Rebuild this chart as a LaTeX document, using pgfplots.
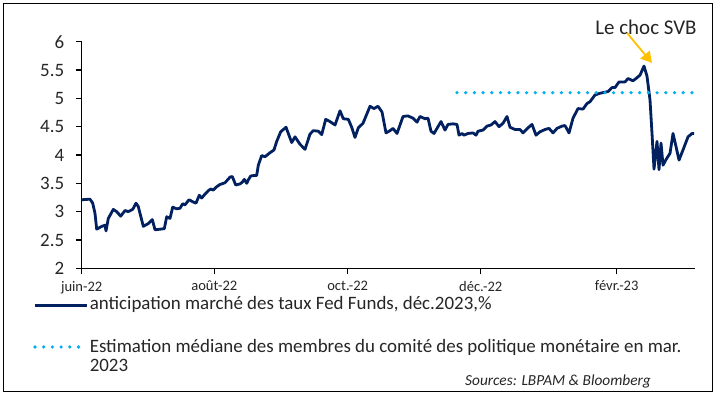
\documentclass[border=0pt]{standalone}
\usepackage{fontspec}
\setmainfont{Carlito}
\usepackage{pgfplots}
\pgfplotsset{compat=1.18}
\usetikzlibrary{arrows.meta}
\definecolor{navy}{HTML}{002060}
\definecolor{sky}{HTML}{00B0F0}
\definecolor{gold}{HTML}{FFC000}
\begin{document}
\begin{tikzpicture}[x=1bp,y=1bp]
\useasboundingbox (0,0) rectangle (717,395);
\fill[white] (0,0) rectangle (717,395);
\draw[line width=1.2bp] (3.5,3.5) rectangle (712.5,391.5);
\begin{axis}[
  at={(81.7bp,126.7bp)}, anchor=south west,
  scale only axis, width=613.3bp, height=226.6bp,
  xmin=81.7, xmax=695, ymin=2, ymax=6,
  axis x line*=bottom, axis y line*=left,
  axis line style={line width=1.2bp, -},
  xtick={81.7,214.3,347.7,480.7,616.7},
  xticklabels={juin-22,août-22,oct.-22,déc.-22,févr.-23},
  ytick={2,2.5,3,3.5,4,4.5,5,5.5,6},
  tick align=outside, major tick length=6bp,
  tick style={line width=1.2bp, black},
  /pgf/number format/assume math mode=true,
  yticklabel style={font=\fontsize{19}{22}\selectfont, color=black!85, xshift=-8bp},
  xticklabel style={font=\fontsize{14.6}{17}\selectfont, color=black!85, inner sep=0.5bp, yshift=-6bp},
  legend style={at={(-0.0794,-0.1175)}, anchor=north west, draw=none, fill=none,
    inner sep=0pt, row sep=25bp, font=\fontsize{19}{21}\selectfont,
    cells={anchor=north west}, nodes={inner sep=1bp, text=black!85}},
  legend image code/.code={\path[draw=none,fill=none] (0,0) rectangle (52bp,-1bp); \draw[#1] (0,-10bp) -- (52bp,-10bp);},
]
\addplot[navy, line width=2.8bp, line join=round] coordinates {
(81.7,3.21)(90,3.22)(92.7,3.15)(95,2.97)(96.7,2.69)(101.7,2.74)(105,2.76)(106,2.66)
(108.3,2.88)(113.3,3.04)(116.7,3.00)(120.7,2.92)(125,3.02)(128.3,3.00)(132.7,3.04)
(136,3.15)(138.3,3.09)(143.3,2.74)(148.3,2.79)(152.3,2.86)(155,2.68)(160,2.69)
(164.3,2.70)(166.7,2.91)(170,2.88)(172.7,3.08)(176.7,3.05)(180,3.06)(182.7,3.14)
(185,3.12)(189,3.21)(193.3,3.17)(196,3.15)(199.3,3.29)(201.7,3.24)(205,3.31)
(208.3,3.37)(210.7,3.40)(213.3,3.38)(216.7,3.44)(220,3.48)(225,3.51)(230,3.61)
(232.3,3.62)(235.7,3.47)(240,3.49)(242.3,3.52)(244.3,3.57)(246.7,3.50)(248.3,3.56)
(250.7,3.63)(255,3.64)(256.7,3.64)(258.3,3.82)(261.7,3.99)(265,3.97)(270,4.04)
(274,4.09)(276.7,4.24)(280.7,4.41)(286,4.49)(291.7,4.22)(295,4.32)(300,4.19)
(305,4.10)(310,4.37)(313.3,4.43)(318.3,4.42)(321.7,4.36)(325.7,4.63)(330,4.59)
(335,4.53)(340,4.78)(343.3,4.64)(348.3,4.63)(351.7,4.49)(355,4.31)(358.3,4.48)
(363,4.56)(370,4.86)(374,4.82)(378,4.86)(382,4.76)(386,4.39)(390,4.43)(393,4.47)
(397,4.38)(403,4.68)(408,4.69)(413,4.65)(417,4.58)(420,4.68)(425,4.64)(428,4.65)
(431,4.42)(434,4.38)(438,4.50)(441,4.59)(445,4.44)(448,4.54)(453,4.55)(457,4.54)
(459,4.35)(462,4.38)(464,4.35)(468,4.38)(473,4.39)(476,4.35)(478,4.42)(483,4.44)
(487,4.51)(491,4.53)(495,4.59)(499,4.50)(503,4.56)(507,4.68)(510,4.49)(515,4.45)
(520,4.45)(523,4.39)(528,4.48)(532,4.54)(536,4.35)(540,4.41)(545,4.45)(549,4.47)
(553,4.39)(557,4.47)(562,4.51)(565,4.52)(569,4.39)(573,4.65)(578,4.82)(583,4.81)
(587,4.91)(590,4.94)(595,5.06)(600,5.09)(608,5.12)(612,5.19)(615,5.19)(619,5.29)
(625,5.29)(628,5.35)(633,5.31)(636,5.35)(640,5.41)(644,5.57)(647,5.39)(650,4.97)
(652,4.38)(654,3.75)(657,4.24)(659,3.74)(661,4.21)(663,3.82)(666,3.92)(670,4.03)
(673,4.38)(676,4.15)(679,3.91)(683,4.09)(688,4.32)(692,4.38)(694,4.38)
};
\addlegendentry{anticipation marché des taux Fed Funds, déc.2023,\%}
\addplot[sky, line width=3.6bp, line cap=round, dash pattern=on 0bp off 8.7bp] coordinates {
(457,5.1)(692,5.1)
};
\addlegendentry{\begin{tabular}[t]{@{}l@{}}Estimation médiane des membres du comité des politique monétaire en mar.\\[-2bp]2023\end{tabular}}
\end{axis}
\node[font=\fontsize{21}{24}\selectfont, text=black!85] at (646,368) {Le choc SVB};
\draw[gold, line width=1.8bp, -{Triangle[width=12bp,length=11bp]}] (627,362) -- (652,332);
\node[font=\itshape\fontsize{15.4}{18}\selectfont, text=black!85] at (558,14) {Sources: LBPAM \& Bloomberg};
\end{tikzpicture}
\end{document}
